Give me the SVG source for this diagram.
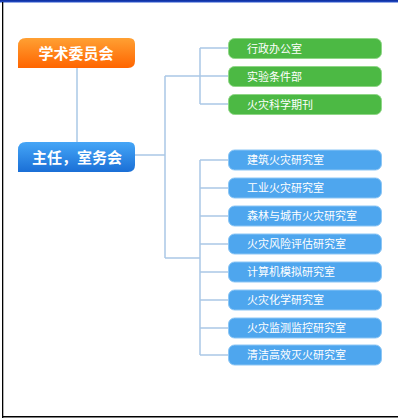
<svg xmlns="http://www.w3.org/2000/svg" width="398" height="418" viewBox="0 0 398 418">
<defs>
<linearGradient id="gOr" x1="0" y1="0" x2="0" y2="1"><stop offset="0" stop-color="#ffa033"/><stop offset="1" stop-color="#ff6500"/></linearGradient>
<linearGradient id="gBl" x1="0" y1="0" x2="0" y2="1"><stop offset="0" stop-color="#45a6f7"/><stop offset="1" stop-color="#1a6fd6"/></linearGradient>
<linearGradient id="gTop" x1="0" y1="0" x2="0" y2="1"><stop offset="0" stop-color="#0a2a9a"/><stop offset="1" stop-color="#2b55d0"/></linearGradient>
<style>
.m{font-family:"Noto Sans CJK SC","Noto Sans",sans-serif;font-size:15px;font-weight:bold;fill:#fff;text-anchor:middle}
.t{font-family:"Noto Sans CJK SC","Noto Sans",sans-serif;font-size:11px;fill:#fff}
.g{fill:#4cb944;stroke:#8fd686;stroke-width:1}
.b{fill:#4ea6ee;stroke:#8cc6f5;stroke-width:1}
.c{fill:none;stroke:#aac8e6;stroke-width:1.5}
</style>
</defs>
<rect x="0" y="0" width="398" height="418" fill="#fff"/>
<rect x="0" y="0" width="398" height="2.5" fill="url(#gTop)"/>
<rect x="2" y="2" width="1.3" height="416" fill="#000"/>
<rect x="2" y="416" width="396" height="1.5" fill="#000"/>
<g id="connectors">
<path class="c" d="M77 68V142"/>
<path class="c" d="M135 155H165M165 76V258M165 76H200M165 258H200"/>
<path class="c" d="M200 48V104M200 48H228M200 76H228M200 104H228"/>
<path class="c" d="M200 160V355M200 160H228M200 188H228M200 216H228M200 244H228M200 272H228M200 300H228M200 328H228M200 355H228"/>
</g>
<g id="n-xueshu">
<path d="M26 38H129Q135 38 135 44V61Q135 68 128 68H18V46Q18 38 26 38Z" fill="url(#gOr)"/>
<text class="m" x="76" y="58.5">学术委员会</text>
</g>
<g id="n-zhuren">
<path d="M26 142H129Q135 142 135 148V165Q135 172 128 172H18V150Q18 142 26 142Z" fill="url(#gBl)"/>
<text class="m" x="77" y="162.5">主任，室务会</text>
</g>
<g id="n-g1"><rect class="g" x="228.5" y="38.5" width="153" height="20" rx="6"/><text class="t" x="247" y="52.5">行政办公室</text></g>
<g id="n-g2"><rect class="g" x="228.5" y="66.5" width="153" height="20" rx="6"/><text class="t" x="247" y="80.5">实验条件部</text></g>
<g id="n-g3"><rect class="g" x="228.5" y="94.5" width="153" height="20" rx="6"/><text class="t" x="247" y="108.5">火灾科学期刊</text></g>
<g id="n-b1"><rect class="b" x="228.5" y="150" width="153" height="20" rx="6"/><text class="t" x="247" y="164">建筑火灾研究室</text></g>
<g id="n-b2"><rect class="b" x="228.5" y="178" width="153" height="20" rx="6"/><text class="t" x="247" y="192">工业火灾研究室</text></g>
<g id="n-b3"><rect class="b" x="228.5" y="206" width="153" height="20" rx="6"/><text class="t" x="247" y="220">森林与城市火灾研究室</text></g>
<g id="n-b4"><rect class="b" x="228.5" y="234" width="153" height="20" rx="6"/><text class="t" x="247" y="248">火灾风险评估研究室</text></g>
<g id="n-b5"><rect class="b" x="228.5" y="262" width="153" height="20" rx="6"/><text class="t" x="247" y="276">计算机模拟研究室</text></g>
<g id="n-b6"><rect class="b" x="228.5" y="290" width="153" height="20" rx="6"/><text class="t" x="247" y="304">火灾化学研究室</text></g>
<g id="n-b7"><rect class="b" x="228.5" y="318" width="153" height="20" rx="6"/><text class="t" x="247" y="332">火灾监测监控研究室</text></g>
<g id="n-b8"><rect class="b" x="228.5" y="345" width="153" height="20" rx="6"/><text class="t" x="247" y="359">清洁高效灭火研究室</text></g>
</svg>
